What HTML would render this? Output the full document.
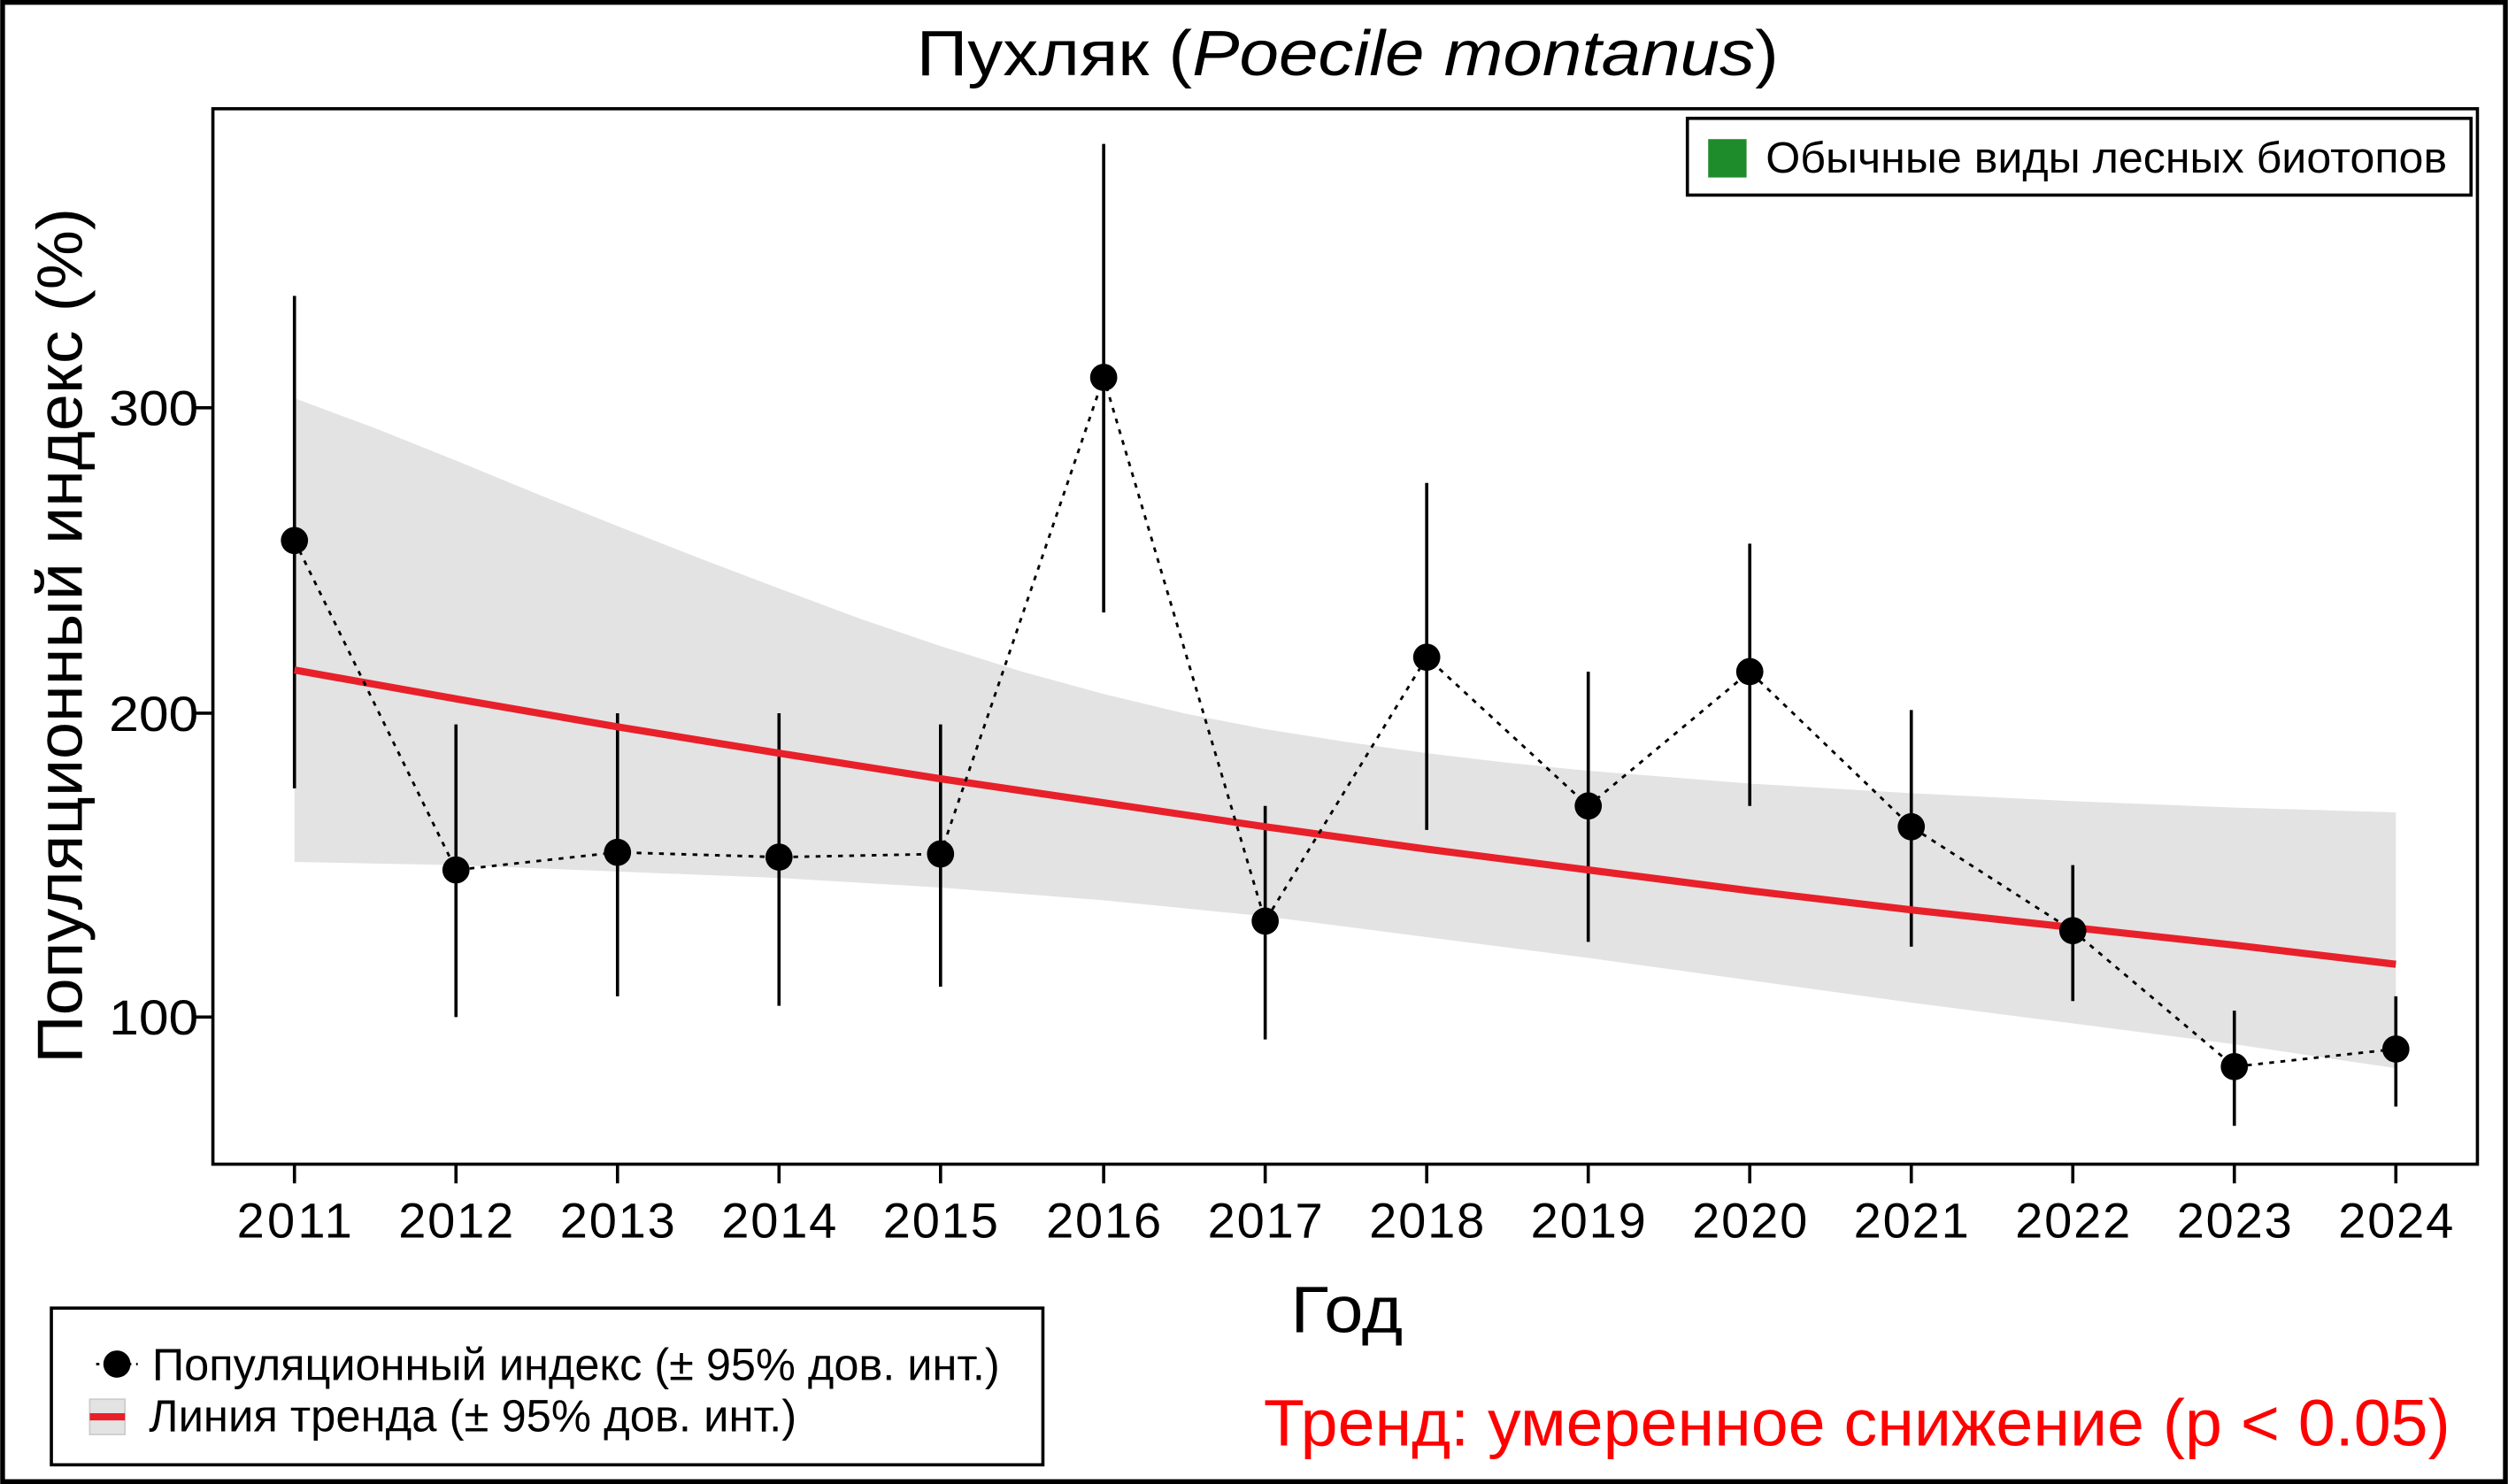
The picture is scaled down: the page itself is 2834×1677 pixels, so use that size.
<!DOCTYPE html>
<html><head><meta charset="utf-8"><style>html,body{margin:0;padding:0;background:#fff}svg{display:block}</style></head><body>
<svg width="2834" height="1677" viewBox="0 0 1568 928" xmlns="http://www.w3.org/2000/svg" font-family="Liberation Sans, Arial, sans-serif">
<rect x="0" y="0" width="1568" height="928" fill="#fff"/>
<rect x="1.5" y="1.5" width="1565" height="925" fill="none" stroke="#000" stroke-width="3"/>
<text x="573" y="47" font-size="40" textLength="539" lengthAdjust="spacingAndGlyphs">Пухляк (<tspan font-style="italic">Poecile montanus</tspan>)</text>
<path d="M184,249 L235,268 L285,288 L336,309 L386,329 L437,349 L487,368 L538,387 L588,404 L639,420 L690,434 L740,446 L791,456 L842,464 L892,471 L943,477 L993,482 L1044,486 L1094,490 L1195,496 L1296,501 L1397,505 L1498,508 L1498,668 L1397,653 L1296,640 L1195,627 L1094,613 L993,599 L892,586 L791,573 L690,563 L588,555 L487,549 L386,545 L285,541 L184,539 Z" fill="#e3e3e3"/>
<g stroke="#000" stroke-width="2">
<line x1="184" y1="493" x2="184" y2="185"/><line x1="285" y1="636" x2="285" y2="453"/><line x1="386" y1="623" x2="386" y2="446"/><line x1="487" y1="629" x2="487" y2="446"/><line x1="588" y1="617" x2="588" y2="453"/><line x1="690" y1="383" x2="690" y2="90"/><line x1="791" y1="650" x2="791" y2="504"/><line x1="892" y1="519" x2="892" y2="302"/><line x1="993" y1="589" x2="993" y2="420"/><line x1="1094" y1="504" x2="1094" y2="340"/><line x1="1195" y1="592" x2="1195" y2="444"/><line x1="1296" y1="626" x2="1296" y2="541"/><line x1="1397" y1="704" x2="1397" y2="632"/><line x1="1498" y1="692" x2="1498" y2="623"/>
</g>
<polyline points="184,419 285,437 386,454.5 487,471 588,487 690,502 791,517 892,531 993,544 1094,557 1195,569 1296,580 1397,591 1498,603" fill="none" stroke="#e8202a" stroke-width="4.5"/>
<polyline points="184,338 285,544 386,533 487,536 588,534 690,236 791,576 892,411 993,504 1094,420 1195,517 1296,582 1397,667 1498,656" fill="none" stroke="#000" stroke-width="1.6" stroke-dasharray="3,4"/>
<g fill="#000">
<circle cx="184" cy="338" r="8.5"/><circle cx="285" cy="544" r="8.5"/><circle cx="386" cy="533" r="8.5"/><circle cx="487" cy="536" r="8.5"/><circle cx="588" cy="534" r="8.5"/><circle cx="690" cy="236" r="8.5"/><circle cx="791" cy="576" r="8.5"/><circle cx="892" cy="411" r="8.5"/><circle cx="993" cy="504" r="8.5"/><circle cx="1094" cy="420" r="8.5"/><circle cx="1195" cy="517" r="8.5"/><circle cx="1296" cy="582" r="8.5"/><circle cx="1397" cy="667" r="8.5"/><circle cx="1498" cy="656" r="8.5"/>
</g>
<rect x="133" y="68" width="1416" height="660" fill="none" stroke="#000" stroke-width="2"/>
<g stroke="#000" stroke-width="2">
<line x1="133" y1="255" x2="121" y2="255"/><line x1="133" y1="446" x2="121" y2="446"/><line x1="133" y1="636" x2="121" y2="636"/>
<line x1="184" y1="728" x2="184" y2="740"/><line x1="285" y1="728" x2="285" y2="740"/><line x1="386" y1="728" x2="386" y2="740"/><line x1="487" y1="728" x2="487" y2="740"/><line x1="588" y1="728" x2="588" y2="740"/><line x1="690" y1="728" x2="690" y2="740"/><line x1="791" y1="728" x2="791" y2="740"/><line x1="892" y1="728" x2="892" y2="740"/><line x1="993" y1="728" x2="993" y2="740"/><line x1="1094" y1="728" x2="1094" y2="740"/><line x1="1195" y1="728" x2="1195" y2="740"/><line x1="1296" y1="728" x2="1296" y2="740"/><line x1="1397" y1="728" x2="1397" y2="740"/><line x1="1498" y1="728" x2="1498" y2="740"/>
</g>
<g font-size="31" text-anchor="end"><text x="124" y="266" textLength="56" lengthAdjust="spacingAndGlyphs">300</text><text x="124" y="457" textLength="56" lengthAdjust="spacingAndGlyphs">200</text><text x="124" y="647" textLength="56" lengthAdjust="spacingAndGlyphs">100</text></g>
<g font-size="31" text-anchor="middle" lengthAdjust="spacingAndGlyphs">
<text x="184" y="774" textLength="72">2011</text><text x="285" y="774" textLength="72">2012</text><text x="386" y="774" textLength="72">2013</text><text x="487" y="774" textLength="72">2014</text><text x="588" y="774" textLength="72">2015</text><text x="690" y="774" textLength="72">2016</text><text x="791" y="774" textLength="72">2017</text><text x="892" y="774" textLength="72">2018</text><text x="993" y="774" textLength="72">2019</text><text x="1094" y="774" textLength="72">2020</text><text x="1195" y="774" textLength="72">2021</text><text x="1296" y="774" textLength="72">2022</text><text x="1397" y="774" textLength="72">2023</text><text x="1498" y="774" textLength="72">2024</text>
</g>
<text x="807" y="833" font-size="41" textLength="70" lengthAdjust="spacingAndGlyphs">Год</text>
<text transform="translate(51,665) rotate(-90)" font-size="40" textLength="535" lengthAdjust="spacingAndGlyphs">Популяционный индекс (%)</text>
<rect x="1055" y="74" width="490" height="48" fill="#fff" stroke="#000" stroke-width="2"/>
<rect x="1068" y="87" width="24" height="24" fill="#1e8c2a"/>
<text x="1104" y="108" font-size="27" textLength="426" lengthAdjust="spacingAndGlyphs">Обычные виды лесных биотопов</text>
<rect x="32" y="818" width="620" height="98" fill="#fff" stroke="#000" stroke-width="2"/>
<line x1="60" y1="853" x2="86" y2="853" stroke="#000" stroke-width="1.5" stroke-dasharray="2,3"/>
<circle cx="73" cy="853" r="8.5" fill="#000"/>
<text x="95" y="863" font-size="28" textLength="530" lengthAdjust="spacingAndGlyphs">Популяционный индекс (± 95% дов. инт.)</text>
<rect x="56" y="875" width="22" height="22" fill="#e3e3e3" stroke="#ccc"/>
<line x1="56" y1="886" x2="78" y2="886" stroke="#e8202a" stroke-width="4.5"/>
<text x="93" y="895" font-size="28" textLength="405" lengthAdjust="spacingAndGlyphs">Линия тренда (± 95% дов. инт.)</text>
<text x="790" y="904" font-size="41" fill="#ff0000" textLength="742" lengthAdjust="spacingAndGlyphs">Тренд: умеренное снижение (p &lt; 0.05)</text>
</svg>
</body></html>
